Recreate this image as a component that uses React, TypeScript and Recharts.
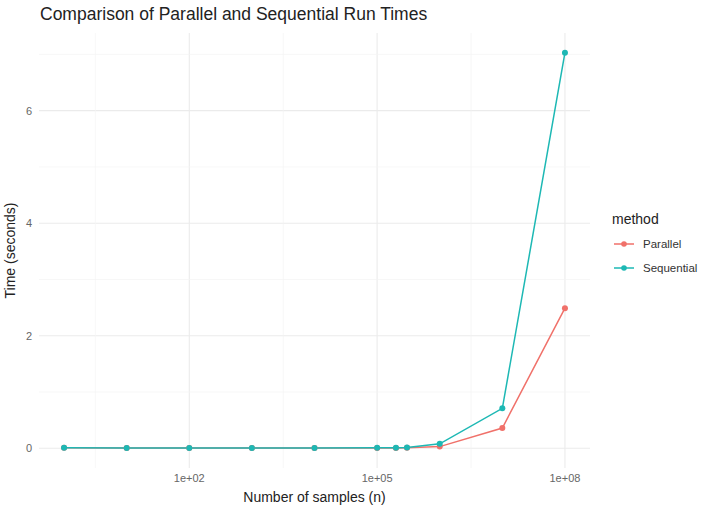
import React from 'react';
import { ComposedChart, Line, XAxis, YAxis, CartesianGrid, ReferenceLine } from 'recharts';

// sample sizes and timings (seconds)
const samples = [1, 10, 100, 1000, 10000, 100000, 200000, 300000, 1000000, 10000000, 100000000];
const parallelTimes = [0.01, 0.005, 0.005, 0.005, 0.005, 0.006, 0.006, 0.008, 0.03, 0.36, 2.49];
const sequentialTimes = [0.01, 0.005, 0.005, 0.005, 0.005, 0.008, 0.01, 0.015, 0.08, 0.71, 7.03];

const xTicks = [100, 100000, 100000000];
const xMinor = [Math.pow(10, 0.5), Math.pow(10, 3.5), Math.pow(10, 6.5)];
const yTicks = [0, 2, 4, 6];
const yMinor = [1, 3, 5, 7];

const series = [
  { key: 'parallel', name: 'Parallel', color: '#F0716A' },
  { key: 'sequential', name: 'Sequential', color: '#1DB8B4' },
];

const data = samples.map((n, i) => ({ n, parallel: parallelTimes[i], sequential: sequentialTimes[i] }));

const FONT = '"Liberation Sans", Arial, sans-serif';

const fmtSci = (v: number) => {
  const e = Math.round(Math.log10(v));
  return `1e+${String(e).padStart(2, '0')}`;
};

const MethodLegend = () => (
  <div style={{ position: 'absolute', left: 612, top: 211, fontFamily: FONT }}>
    <div style={{ fontSize: 14, color: '#222', marginBottom: 5 }}>method</div>
    {series.map((s) => (
      <div key={s.key} style={{ display: 'flex', alignItems: 'center', height: 24 }}>
        <svg width={31} height={12}>
          <line x1={2} y1={6} x2={22} y2={6} stroke={s.color} strokeWidth={1.5} />
          <circle cx={12} cy={6} r={2.8} fill={s.color} />
        </svg>
        <span style={{ fontSize: 11.5, color: '#333' }}>{s.name}</span>
      </div>
    ))}
  </div>
);

export default function App() {
  return (
    <div style={{ position: 'absolute', left: 0, top: 0, width: 720, height: 513, background: '#fff', fontFamily: FONT }}>
      <ComposedChart width={720} height={513} data={data} margin={{ top: 33, right: 130, bottom: 25, left: 0 }}>
        <CartesianGrid stroke="#ebebeb" strokeWidth={1.1} horizontalValues={yTicks} verticalValues={xTicks} />
        {xMinor.map((v) => (
          <ReferenceLine key={`xm${v}`} x={v} stroke="#f3f3f3" strokeWidth={0.7} />
        ))}
        {yMinor.map((v) => (
          <ReferenceLine key={`ym${v}`} y={v} stroke="#f3f3f3" strokeWidth={0.7} />
        ))}
        <XAxis
          dataKey="n"
          type="number"
          scale="log"
          domain={[Math.pow(10, -0.4), Math.pow(10, 8.4)]}
          allowDataOverflow
          ticks={xTicks}
          tickFormatter={fmtSci}
          axisLine={false}
          tickLine={false}
          tickSize={0}
          tickMargin={6}
          height={20}
          tick={{ fill: '#666', fontSize: 11, fontFamily: FONT }}
          label={{ value: 'Number of samples (n)', position: 'insideBottom', offset: -14, fill: '#222', fontSize: 14, fontFamily: FONT }}
        />
        <YAxis
          type="number"
          domain={[-0.35, 7.38]}
          allowDataOverflow
          ticks={yTicks}
          axisLine={false}
          tickLine={false}
          tickSize={0}
          tickMargin={7}
          width={39}
          tick={{ fill: '#666', fontSize: 11, fontFamily: FONT }}
          label={{ value: 'Time (seconds)', angle: -90, position: 'insideLeft', offset: 10, style: { textAnchor: 'middle' }, fill: '#222', fontSize: 14, fontFamily: FONT }}
        />
        {series.map((s) => (
          <Line
            key={s.key}
            dataKey={s.key}
            name={s.name}
            stroke={s.color}
            strokeWidth={1.5}
            dot={{ r: 3, fill: s.color, stroke: 'none' }}
            activeDot={false}
            type="linear"
            isAnimationActive={false}
          />
        ))}
      </ComposedChart>
      <MethodLegend />
      <div style={{ position: 'absolute', left: 40, top: 4, fontSize: 17.5, color: '#222' }}>
        Comparison of Parallel and Sequential Run Times
      </div>
    </div>
  );
}
